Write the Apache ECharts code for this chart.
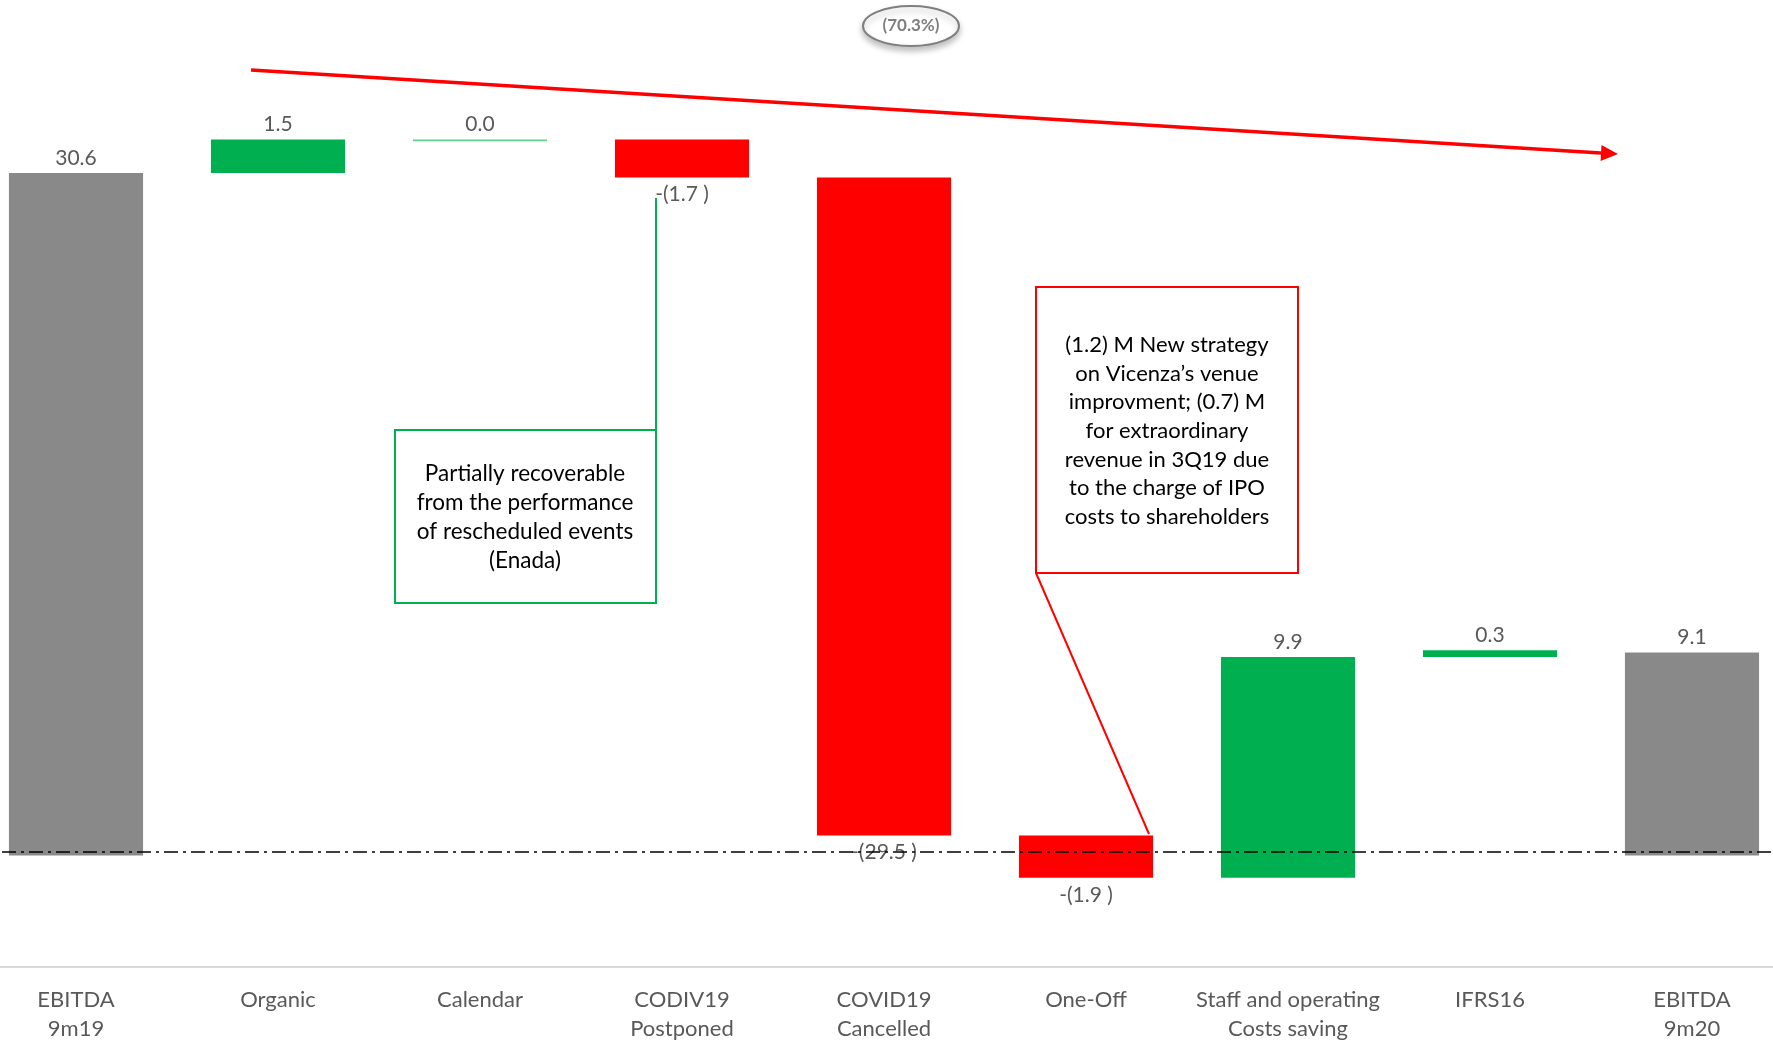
<!DOCTYPE html>
<html>
<head>
<meta charset="utf-8">
<title>EBITDA bridge 9m19 - 9m20</title>
<script src="https://cdn.jsdelivr.net/npm/echarts@6/dist/echarts.min.js"></script>
<style>
    html, body { margin: 0; padding: 0; background: #fff; overflow: hidden; width: 1773px; height: 1044px; }
    /* the first and last bands run a bit past the slide edges */
    #bridge { position: absolute; left: -25px; top: 0; width: 1818px; height: 1044px; }
</style>
</head>
<body>
<div id="bridge"></div>
<script>
// categories and variations (M EUR)
var categories = ['EBITDA\n9m19', 'Organic', 'Calendar', 'CODIV19\nPostponed', 'COVID19\nCancelled',
    'One-Off', 'Staff and operating\nCosts saving', 'IFRS16', 'EBITDA\n9m20'];
var deltas = [30.6, 1.5, 0.0, -1.7, -29.5, -1.9, 9.9, 0.3, 9.1];
var isTotal = [true, false, false, false, false, false, false, false, true];

var greenNote = ['Partially recoverable', 'from the performance', 'of rescheduled events', '(Enada)'];
var redNote = ['(1.2) M New strategy', 'on Vicenza\u2019s venue', 'improvment; (0.7) M', 'for extraordinary',
    'revenue in 3Q19 due', 'to the charge of IPO', 'costs to shareholders'];
var changeLabel = '(70.3%)';

var colors = {total: '#898989', up: '#00b050', down: '#ff0000', flat: '#5fd08f', text: '#595959'};
var font = 'Lato, "Open Sans", sans-serif';
var off = 25; // page x -> chart x

// build the floating bars: [index, low, high, delta]
var bridgeData = [];
var running = 0;
for (var i = 0; i < deltas.length; i++) {
    var lo, hi;
    if (isTotal[i]) {
        lo = 0; hi = deltas[i]; running = deltas[i];
    } else {
        var next = running + deltas[i];
        lo = Math.min(running, next); hi = Math.max(running, next);
        running = next;
    }
    bridgeData.push([i, lo, hi, deltas[i]]);
}

function fmt(v) {
    if (v < 0) return '-(' + Math.abs(v).toFixed(1) + ' )';
    return v.toFixed(1);
}

function renderBar(params, api) {
    var idx = api.value(0), lo = api.value(1), hi = api.value(2), d = api.value(3);
    var total = isTotal[idx];
    var top = api.coord([idx, hi]);
    var bottom = api.coord([idx, lo]);
    var w = api.size([1, 0])[0] * 0.664;
    var h = bottom[1] - top[1];
    var fill = total ? colors.total : (d > 0 ? colors.up : (d < 0 ? colors.down : colors.flat));
    if (h < 2) { h = 1.6; }
    var labelY = d < 0 ? bottom[1] + 17 : top[1] - 15;
    return {
        type: 'group',
        children: [{
            type: 'rect',
            shape: {x: top[0] - w / 2, y: top[1], width: w, height: h},
            style: {fill: fill}
        }, {
            type: 'text',
            x: top[0], y: labelY,
            style: {
                text: fmt(d), fill: colors.text,
                font: '21px ' + font, align: 'center', verticalAlign: 'middle'
            }
        }]
    };
}

// red trend arrow
var arrowFrom = [251 + off, 70], arrowTo = [1618 + off, 154];
var ang = Math.atan2(arrowTo[1] - arrowFrom[1], arrowTo[0] - arrowFrom[0]);
var headLen = 17, headHalf = 8;
var base = [arrowTo[0] - headLen * Math.cos(ang), arrowTo[1] - headLen * Math.sin(ang)];
var head = [
    arrowTo,
    [base[0] + headHalf * Math.sin(ang), base[1] - headHalf * Math.cos(ang)],
    [base[0] - headHalf * Math.sin(ang), base[1] + headHalf * Math.cos(ang)]
];

bridgeOption = {
    animation: false,
    grid: {left: 0, right: 0, top: 8, bottom: 77},
    xAxis: {
        type: 'category',
        data: categories,
        boundaryGap: true,
        axisTick: {show: false},
        axisLine: {onZero: false, lineStyle: {color: '#d9d9d9', width: 2}},
        axisLabel: {
            color: colors.text, fontFamily: font, fontSize: 22,
            lineHeight: 29, margin: 18, interval: 0
        }
    },
    yAxis: {
        type: 'value', min: -5, max: 38,
        show: false, splitLine: {show: false}
    },
    series: [{
        type: 'custom',
        renderItem: renderBar,
        encode: {x: 0, y: [1, 2]},
        data: bridgeData,
        markLine: {
            silent: true,
            symbol: 'none',
            label: {show: false},
            lineStyle: {color: '#000', width: 1.5, type: [14, 5, 3, 5]},
            data: [{yAxis: 0.15}]
        }
    }],
    graphic: [
        {
            type: 'line', z: 10,
            shape: {x1: arrowFrom[0], y1: arrowFrom[1], x2: base[0], y2: base[1]},
            style: {stroke: '#ff0000', lineWidth: 3.5}
        },
        {
            type: 'polygon', z: 10,
            shape: {points: head},
            style: {fill: '#ff0000'}
        },
        {
            type: 'ellipse', z: 10,
            shape: {cx: 911 + off, cy: 26, rx: 48, ry: 20},
            style: {
                fill: '#fff', stroke: '#7f7f7f', lineWidth: 2,
                shadowBlur: 6, shadowOffsetY: 4, shadowColor: 'rgba(0,0,0,0.25)'
            }
        },
        {
            type: 'text', z: 11, x: 911 + off, y: 26,
            style: {
                text: changeLabel, fill: '#7f7f7f', font: 'bold 17px ' + font,
                align: 'center', verticalAlign: 'middle'
            }
        },
        // green callout
        {
            type: 'line', z: 10,
            shape: {x1: 656 + off, y1: 430, x2: 656 + off, y2: 198},
            style: {stroke: '#00b050', lineWidth: 2}
        },
        {
            type: 'rect', z: 10,
            shape: {x: 395 + off, y: 430, width: 261, height: 173},
            style: {fill: '#fff', stroke: '#00b050', lineWidth: 2}
        },
        {
            type: 'text', z: 11, x: 525 + off, y: 517,
            style: {
                text: greenNote.join('\n'), fill: '#000', font: '22.5px ' + font,
                lineHeight: 29, align: 'center', verticalAlign: 'middle'
            }
        },
        // red callout
        {
            type: 'line', z: 10,
            shape: {x1: 1036 + off, y1: 573, x2: 1149 + off, y2: 834},
            style: {stroke: '#ff0000', lineWidth: 2}
        },
        {
            type: 'rect', z: 10,
            shape: {x: 1036 + off, y: 287, width: 262, height: 286},
            style: {fill: '#fff', stroke: '#ff0000', lineWidth: 2}
        },
        {
            type: 'text', z: 11, x: 1167 + off, y: 431,
            style: {
                text: redNote.join('\n'), fill: '#000', font: '22px ' + font,
                lineHeight: 28.7, align: 'center', verticalAlign: 'middle'
            }
        }
    ]
};

var bridgeChart = echarts.init(document.getElementById('bridge'));
bridgeChart.setOption(bridgeOption);
</script>
</body>
</html>
